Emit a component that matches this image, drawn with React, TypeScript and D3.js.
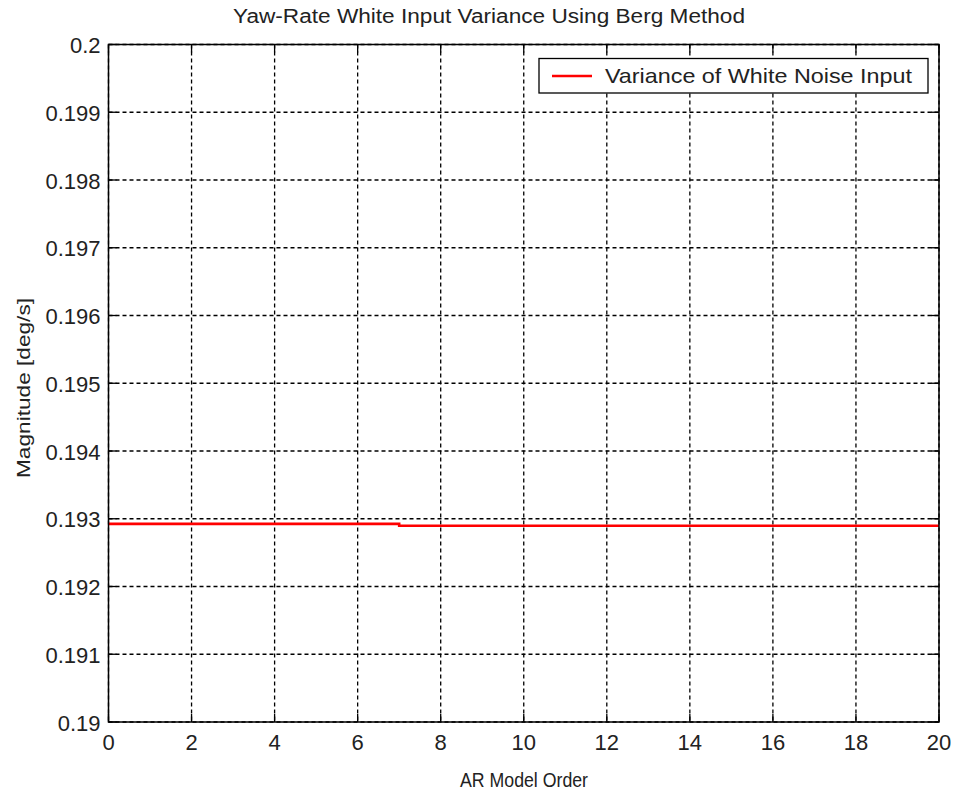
import React from "react";
import * as d3 from "d3";

const orders = [0, 1, 2, 3, 4, 5, 6, 7, 8, 9, 10, 11, 12, 13, 14, 15, 16, 17, 18, 19, 20];
const variance = [
  0.192925, 0.192925, 0.192925, 0.192925, 0.192925, 0.192925, 0.192925,
  0.192897, 0.192897, 0.192897, 0.192897, 0.192897, 0.192897, 0.192897,
  0.192897, 0.192897, 0.192897, 0.192897, 0.192897, 0.192897, 0.192897,
];
const xTicks = [0, 2, 4, 6, 8, 10, 12, 14, 16, 18, 20];
const yTicks = [0.19, 0.191, 0.192, 0.193, 0.194, 0.195, 0.196, 0.197, 0.198, 0.199, 0.2];
const yTickLabels = ["0.19", "0.191", "0.192", "0.193", "0.194", "0.195", "0.196", "0.197", "0.198", "0.199", "0.2"];

const W = 954;
const H = 795;
const left = 108.5;
const right = 939;
const top = 44.5;
const bottom = 722;
const font = "'Liberation Sans', Arial, sans-serif";
const textColor = "#222";

export default function App() {
  const x = d3.scaleLinear().domain([0, 20]).range([left, right]);
  const y = d3.scaleLinear().domain([0.19, 0.2]).range([bottom, top]);
  const line = d3
    .line<number>()
    .x((_, i) => x(orders[i]))
    .y((d) => y(d))
    .curve(d3.curveStepAfter);

  return (
    <svg
      width={W}
      height={H}
      style={{ position: "absolute", left: 0, top: 0, background: "#fff" }}
      fontFamily={font}
    >
      <rect x={0} y={0} width={W} height={H} fill="#fff" />
      <rect x={left} y={top} width={right - left} height={bottom - top} fill="#fff" />
      {/* grid */}
      {xTicks.map((t) => (
        <line
          key={"gx" + t}
          x1={x(t)}
          x2={x(t)}
          y1={top}
          y2={bottom}
          stroke="#000"
          strokeWidth={1.3}
          strokeDasharray="4,3"
        />
      ))}
      {yTicks.map((t) => (
        <line
          key={"gy" + t}
          x1={left}
          x2={right}
          y1={y(t)}
          y2={y(t)}
          stroke="#000"
          strokeWidth={1.3}
          strokeDasharray="4,3"
        />
      ))}
      {/* ticks */}
      {xTicks.map((t) => (
        <g key={"tx" + t}>
          <line x1={x(t)} x2={x(t)} y1={bottom} y2={bottom - 8} stroke="#000" strokeWidth={1.3} />
          <line x1={x(t)} x2={x(t)} y1={top} y2={top + 8} stroke="#000" strokeWidth={1.3} />
          <text x={x(t)} y={bottom + 28} textAnchor="middle" fontSize={22} fill={textColor}>
            {t}
          </text>
        </g>
      ))}
      {yTicks.map((t, i) => (
        <g key={"ty" + t}>
          <line x1={left} x2={left + 8} y1={y(t)} y2={y(t)} stroke="#000" strokeWidth={1.3} />
          <line x1={right} x2={right - 8} y1={y(t)} y2={y(t)} stroke="#000" strokeWidth={1.3} />
          <text x={left - 8} y={y(t) + 8.5} textAnchor="end" fontSize={22} fill={textColor}>
            {yTickLabels[i]}
          </text>
        </g>
      ))}
      {/* data */}
      <path d={line(variance) || ""} fill="none" stroke="#ff0000" strokeWidth={2.6} />
      {/* box */}
      <rect
        x={left}
        y={top}
        width={right - left}
        height={bottom - top}
        fill="none"
        stroke="#000"
        strokeWidth={1.5}
      />
      {/* legend */}
      <rect x={539} y={58.5} width={389} height={34.5} fill="#fff" stroke="#000" strokeWidth={1.3} />
      <line x1={552} x2={592} y1={76} y2={76} stroke="#ff0000" strokeWidth={2.6} />
      <text x={605} y={83} fontSize={21} fill={textColor} textLength={307} lengthAdjust="spacingAndGlyphs">
        Variance of White Noise Input
      </text>
      {/* title and labels */}
      <text
        x={489}
        y={23}
        textAnchor="middle"
        fontSize={20}
        fill={textColor}
        textLength={512}
        lengthAdjust="spacingAndGlyphs"
      >
        Yaw-Rate White Input Variance Using Berg Method
      </text>
      <text
        x={524}
        y={787}
        textAnchor="middle"
        fontSize={21}
        fill={textColor}
        textLength={128}
        lengthAdjust="spacingAndGlyphs"
      >
        AR Model Order
      </text>
      <text
        transform={`translate(30,388) rotate(-90)`}
        textAnchor="middle"
        fontSize={19}
        fill={textColor}
        textLength={180}
        lengthAdjust="spacingAndGlyphs"
      >
        Magnitude [deg/s]
      </text>
    </svg>
  );
}
